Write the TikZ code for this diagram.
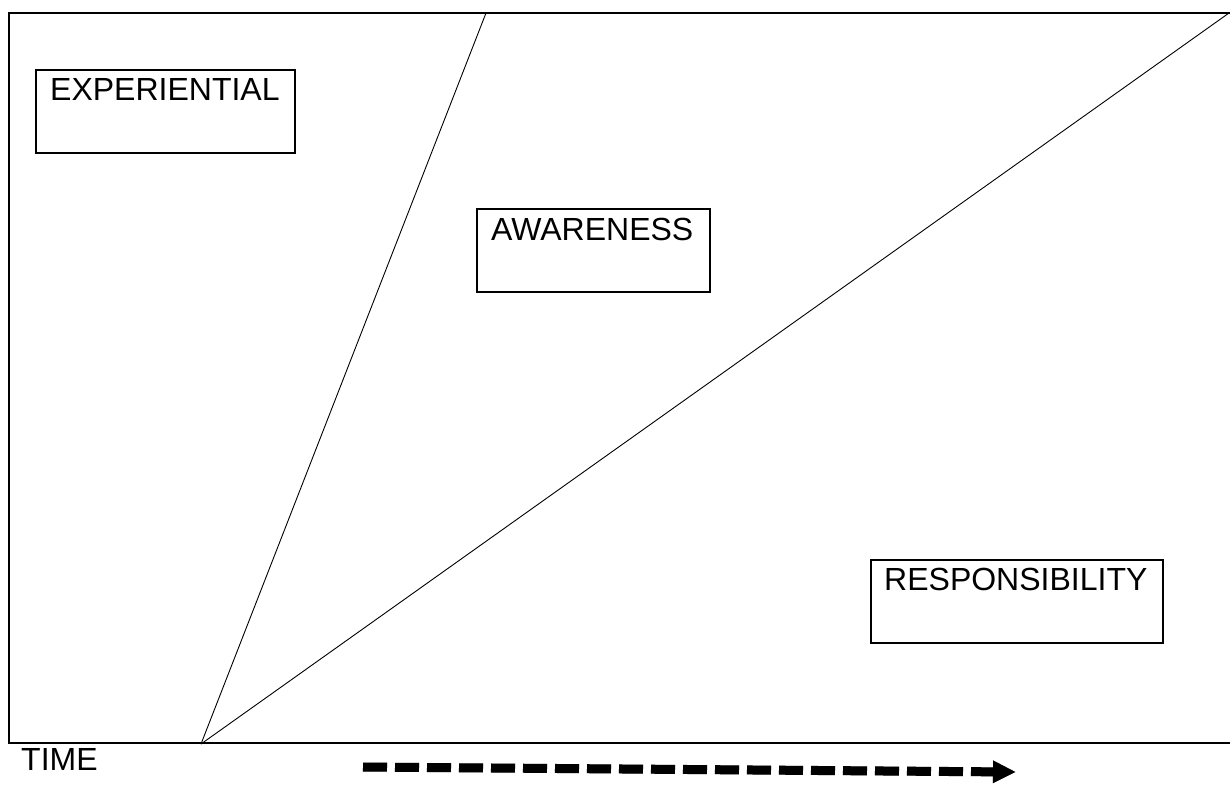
\documentclass[tikz,border=0pt]{standalone}
\usepackage{fontspec}
\setmainfont{Liberation Sans}
\usetikzlibrary{arrows.meta}
\begin{document}
\begin{tikzpicture}[x=1pt,y=-1pt,
  frame/.style={line width=2pt},
  thin line/.style={line width=0.9pt},
  box/.style={draw,line width=2pt,inner sep=0pt},
  label text/.style={inner sep=0pt,anchor=base west,font=\fontsize{32}{37}\selectfont},
  timearrow/.style={line width=9pt,dash pattern=on 24pt off 8pt,-{Triangle[length=23pt,width=21pt]}}]
\useasboundingbox (0,0) rectangle (1230,785);
% frame
\coordinate (tr) at (1230,13);
\coordinate (tl) at (9,13);
\coordinate (bl) at (9,743);
\coordinate (br) at (1230,743);
\draw[frame] (tr) -- (tl) -- (bl) -- (br);
% diagonals
\coordinate (apex) at (201,744);
\coordinate (top1) at (486,13);
\coordinate (top2) at (1229,13);
\draw[thin line] (apex) -- (top1);
\draw[thin line] (apex) -- (top2);
% boxes
\node[box,minimum width=259pt,minimum height=83pt] (expbox) at (165.5,111.5) {};
\node[box,minimum width=233pt,minimum height=83pt] (awabox) at (593,250.5) {};
\node[box,minimum width=292pt,minimum height=83pt] (resbox) at (1017,601) {};
\node[label text] (exp) at (50,100) {EXPERIENTIAL};
\node[label text] (awa) at (491,240) {AWARENESS};
\node[label text] (res) at (884,590) {RESPONSIBILITY};
\node[label text] (time) at (21,770) {TIME};
% arrow
\coordinate (as) at (363,767);
\coordinate (ae) at (1016,772);
\draw[timearrow,black!35,shift={(1pt,-2.5pt)}] (as) -- (ae);
\draw[timearrow] (as) -- (ae);
\end{tikzpicture}
\end{document}
